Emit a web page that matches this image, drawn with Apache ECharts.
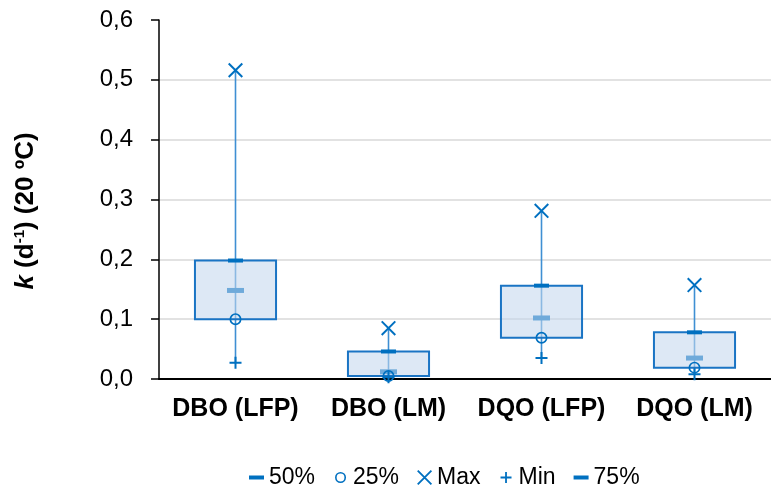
<!DOCTYPE html>
<html>
<head>
<meta charset="utf-8">
<script src="https://cdn.jsdelivr.net/npm/echarts@6/dist/echarts.min.js"></script>
<style>html,body{margin:0;padding:0;background:#fff}#c{width:771px;height:491px}</style>
</head>
<body>
<div id="c"></div>
<script>
const categories = ['DBO (LFP)', 'DBO (LM)', 'DQO (LFP)', 'DQO (LM)'];
const maxVals = [0.516, 0.085, 0.281, 0.157];
const p75 = [0.198, 0.046, 0.156, 0.078];
const p50 = [0.148, 0.012, 0.102, 0.035];
const p25 = [0.100, 0.005, 0.069, 0.019];
const minVals = [0.027, 0.003, 0.035, 0.008];
const yTicks = [0, 0.1, 0.2, 0.3, 0.4, 0.5, 0.6];

const BLUE = '#0070c0';
const ringPath = 'path://M6,0A6,6,0,1,1,6,12A6,6,0,1,1,6,0ZM6,1.7A4.3,4.3,0,1,0,6,10.3A4.3,4.3,0,1,0,6,1.7Z';
const xPath = 'path://M0,1.4L1.4,0L15,13.6L13.6,15ZM13.6,0L15,1.4L1.4,15L0,13.6Z';
const plusPath = 'path://M5,0H7V5H12V7H7V12H5V7H0V5H5Z';

const legDash = 'path://M0,0M15,15M0,5.5H15V9.5H0Z';
const legRing = 'path://M0,0M15,15M7.5,2A5.5,5.5,0,1,1,7.5,13A5.5,5.5,0,1,1,7.5,2ZM7.5,3.6A3.9,3.9,0,1,0,7.5,11.4A3.9,3.9,0,1,0,7.5,3.6Z';
const legX = 'path://M0,1.3L1.3,0L15,13.7L13.7,15ZM13.7,0L15,1.3L1.3,15L0,13.7Z';
const legPlus = 'path://M0,0M15,15M6.6,2H8.4V6.6H13V8.4H8.4V13H6.6V8.4H2V6.6H6.6Z';

const boxData = categories.map((c, i) => [i, p25[i], p75[i], minVals[i], maxVals[i]]);

const FONT = 'Liberation Sans, Arial';
const chart = echarts.init(document.getElementById('c'), null, {renderer: 'canvas'});
chart.setOption({
  animation: false,
  backgroundColor: '#fff',
  grid: {left: 159, top: 20, width: 620, height: 359, containLabel: false},
  xAxis: {
    type: 'category',
    data: categories,
    axisLine: {lineStyle: {color: '#000', width: 2}},
    axisTick: {show: false},
    axisLabel: {interval: 0, color: '#000', fontSize: 25, fontWeight: 'bold', fontFamily: FONT, margin: 18}
  },
  yAxis: {
    type: 'value',
    min: yTicks[0], max: yTicks[yTicks.length - 1], interval: 0.1,
    axisLine: {show: true, lineStyle: {color: '#000', width: 1.5}},
    axisTick: {show: true, length: 8, lineStyle: {color: '#000', width: 1.5}},
    axisLabel: {color: '#000', fontSize: 24, fontFamily: FONT, margin: 26,
      formatter: v => v.toFixed(1).replace('.', ',')},
    splitLine: {show: true, showMaxLine: false, showMinLine: false, lineStyle: {color: '#d9d9d9', width: 1.5}}
  },
  legend: {
    left: 249, top: 466, padding: 0,
    itemWidth: 15, itemHeight: 15, itemGap: 18,
    textStyle: {color: '#000', fontSize: 23, fontFamily: FONT},
    data: [
      {name: '50%', icon: legDash, itemStyle: {color: BLUE}},
      {name: '25%', icon: legRing, itemStyle: {color: BLUE}},
      {name: 'Max', icon: legX, itemStyle: {color: BLUE}},
      {name: 'Min', icon: legPlus, itemStyle: {color: BLUE}},
      {name: '75%', icon: legDash, itemStyle: {color: BLUE}}
    ]
  },
  graphic: [{
    type: 'text', x: 26, y: 211, rotation: Math.PI / 2,
    style: {
      text: '{i|k} {b|(d}{s|-1}{b|) (20 ºC)}',
      textAlign: 'center', textVerticalAlign: 'middle',
      rich: {
        i: {fontSize: 26, fontWeight: 'bold', fontStyle: 'italic', fontFamily: FONT, fill: '#000', lineHeight: 28},
        b: {fontSize: 26, fontWeight: 'bold', fontFamily: FONT, fill: '#000', lineHeight: 28},
        s: {fontSize: 15, fontWeight: 'bold', fontFamily: FONT, fill: '#000', verticalAlign: 'top', lineHeight: 28, padding: [0, 0, 12, 0]}
      },
      fontSize: 26, fontWeight: 'bold', fontFamily: FONT, fill: '#000'
    }
  }],
  series: [
    {
      type: 'custom', name: 'whisker', z: 1,
      data: boxData,
      encode: {x: 0, y: [1, 2, 3, 4]},
      renderItem: function (params, api) {
        const idx = api.value(0);
        const x = api.coord([idx, 0])[0];
        const yMin = api.coord([idx, api.value(3)])[1];
        const yMax = api.coord([idx, api.value(4)])[1];
        return {type: 'line', shape: {x1: x, y1: yMax, x2: x, y2: yMin}, style: {stroke: '#3f8fd3', lineWidth: 1.6}};
      }
    },
    {
      type: 'scatter', name: '50%', z: 2,
      symbol: 'rect', symbolSize: [17, 5],
      itemStyle: {color: BLUE, opacity: 1},
      data: p50
    },
    {
      type: 'custom', name: 'box', z: 3,
      data: boxData,
      encode: {x: 0, y: [1, 2, 3, 4]},
      renderItem: function (params, api) {
        const idx = api.value(0);
        const x = api.coord([idx, 0])[0];
        const bw = api.size([1, 0])[0] * 0.53;
        const yQ1 = api.coord([idx, api.value(1)])[1];
        const yQ3 = api.coord([idx, api.value(2)])[1];
        return {type: 'rect', shape: {x: x - bw / 2, y: yQ3, width: bw, height: yQ1 - yQ3},
          style: {fill: 'rgba(195,215,237,0.57)', stroke: '#1a74c4', lineWidth: 2}};
      }
    },
    {
      type: 'scatter', name: '25%', z: 4,
      symbol: ringPath, symbolSize: 12,
      itemStyle: {color: BLUE, opacity: 1},
      data: p25
    },
    {
      type: 'scatter', name: 'Max', z: 4,
      symbol: xPath, symbolSize: 15,
      itemStyle: {color: BLUE, opacity: 1},
      data: maxVals
    },
    {
      type: 'scatter', name: 'Min', z: 4,
      symbol: plusPath, symbolSize: 12,
      itemStyle: {color: BLUE, opacity: 1},
      data: minVals
    },
    {
      type: 'scatter', name: '75%', z: 4,
      symbol: 'rect', symbolSize: [15, 4],
      itemStyle: {color: BLUE, opacity: 1},
      data: p75
    }
  ]
});
</script>
</body>
</html>
